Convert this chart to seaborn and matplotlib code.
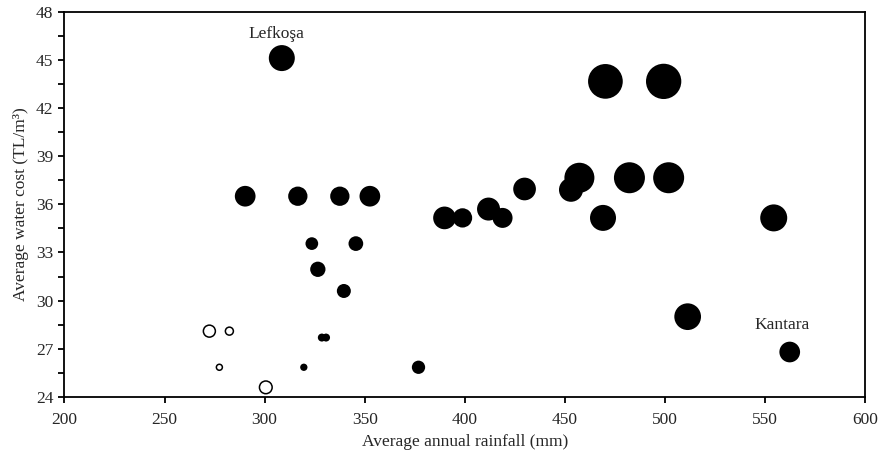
import numpy as np
import pandas as pd
import matplotlib
matplotlib.use("Agg")
import matplotlib.pyplot as plt
from matplotlib.ticker import MultipleLocator
import seaborn as sns

# Bubble chart data
rain_filled = [308.6, 290.3, 316.6, 337.6, 352.6, 389.9, 398.9, 411.9, 418.9,
               429.9, 453.1, 457.3, 469.1, 482.3, 501.9, 470.3, 499.4, 554.4,
               511.4, 562.4, 323.6, 345.6, 326.6, 339.6, 319.6, 328.6, 330.7,
               376.9]
cost_filled = [45.1, 36.5, 36.5, 36.5, 36.5, 35.15, 35.15, 35.7, 35.15,
               36.95, 36.9, 37.65, 35.15, 37.65, 37.65, 43.65, 43.65, 35.15,
               29.0, 26.8, 33.55, 33.55, 31.95, 30.6, 25.85, 27.7, 27.7,
               25.85]
size_filled = [26, 20.7, 19.3, 19.3, 20.7, 22.7, 19.3, 23, 20,
               22.7, 24, 30, 26, 31, 31, 34.7, 35.3, 27,
               26.7, 20.7, 12.7, 14.7, 15.3, 14, 7.3, 8, 8,
               13.3]

rain_open = [272.4, 282.4, 277.4, 300.6]
cost_open = [28.1, 28.1, 25.85, 24.6]
size_open = [12.0, 8.0, 6.0, 12.7]

labels = ["Lefkoşa", "Kantara"]
label_x = [305.8, 558.6]
label_y = [46.6, 28.5]

sns.set_style("ticks")
plt.rcParams['font.family'] = ['Liberation Serif', 'DejaVu Serif']
plt.rcParams['axes.linewidth'] = 1.3

df_f = pd.DataFrame({'rain': rain_filled, 'cost': cost_filled,
                     'area': (np.array(size_filled) * 0.72) ** 2})
df_o = pd.DataFrame({'rain': rain_open, 'cost': cost_open,
                     'area': (np.array(size_open) * 0.72) ** 2})

fig = plt.figure(figsize=(8.82, 4.55), dpi=100)
ax = fig.add_axes([0.0731, 0.1275, 0.9076, 0.8472])

# filled bubbles
sns.scatterplot(data=df_f, x='rain', y='cost', size='area',
                sizes=(0, 1000), size_norm=(0, 1000), color='black',
                linewidth=0, legend=False, ax=ax)
# hollow bubbles
sns.scatterplot(data=df_o, x='rain', y='cost', size='area',
                sizes=(0, 1000), size_norm=(0, 1000), facecolor='white',
                edgecolor='black', linewidth=1.1, legend=False, ax=ax)

for t, x, y in zip(labels, label_x, label_y):
  ax.text(x, y, t, ha='center', va='center', fontsize=12.5)

ax.set_xlim(200, 600)
ax.set_ylim(24, 48)
ax.xaxis.set_major_locator(MultipleLocator(50))
ax.yaxis.set_major_locator(MultipleLocator(3))
ax.yaxis.set_minor_locator(MultipleLocator(1.5))
ax.tick_params(axis='both', which='major', direction='out', length=4.5,
               width=1.3, labelsize=12.5, color='black')
ax.tick_params(axis='x', which='major', pad=6.5)
ax.tick_params(axis='y', which='minor', direction='out', length=4.5,
               width=1.3, color='black')
for s in ax.spines.values():
  s.set_visible(True)
  s.set_color('black')

ax.set_xlabel('Average annual rainfall (mm)', fontsize=12.5, labelpad=4)
ax.set_ylabel('Average water cost (TL/m³)', fontsize=12.5, labelpad=5)

fig.savefig('out.png', dpi=100)
